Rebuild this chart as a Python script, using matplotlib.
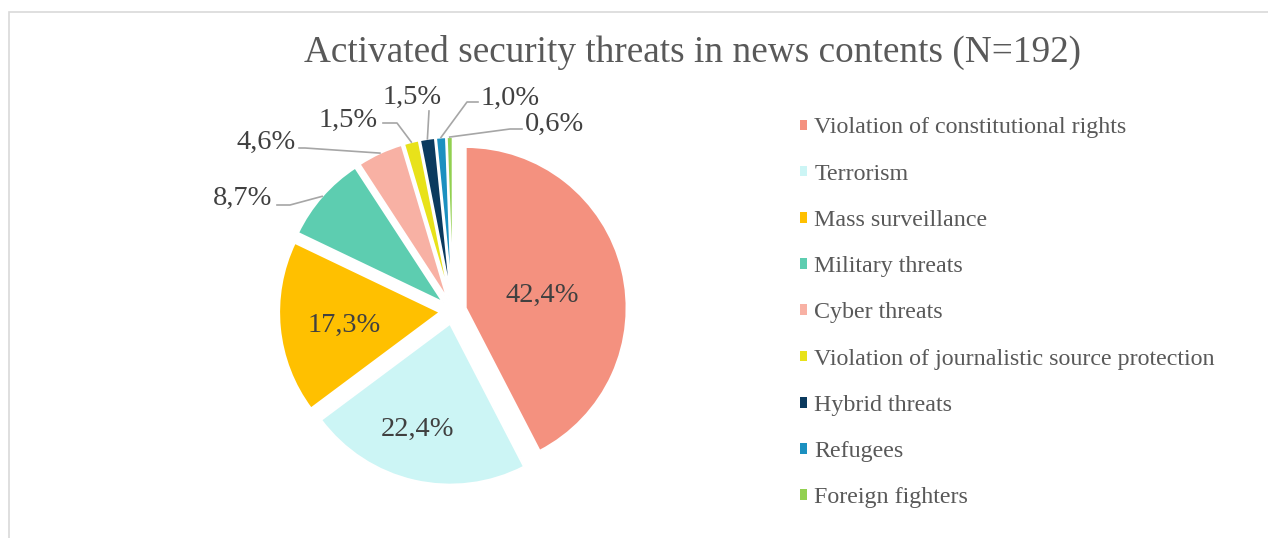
import matplotlib.pyplot as plt
from matplotlib.patches import Rectangle, Patch
import numpy as np

# data
categories = ['Violation of constitutional rights', 'Terrorism', 'Mass surveillance',
              'Military threats', 'Cyber threats', 'Violation of journalistic source protection',
              'Hybrid threats', 'Refugees', 'Foreign fighters']
shares = [42.4, 22.4, 17.3, 8.7, 4.6, 1.5, 1.5, 1.0, 0.6]
colors = ['#F4917F', '#CCF5F5', '#FFC000', '#5DCDB0', '#F8B1A4',
          '#E8E21A', '#0B3A5E', '#1B90C0', '#92D050']

W, H = 1268, 538
plt.rcParams['font.family'] = 'Liberation Serif'

fig = plt.figure(figsize=(W / 100, H / 100), dpi=100)
ax = fig.add_axes([0, 0, 1, 1])


def py(y):
    # pixel row -> data y (y up)
    return H - y


# explode is in data units (pixels here)
wedges, _ = ax.pie(shares, colors=colors, startangle=90, counterclock=False,
                   center=(453, py(311)), radius=161, explode=[13] * len(shares),
                   wedgeprops=dict(linewidth=1.5, edgecolor='white'))
ax.set_xlim(0, W)
ax.set_ylim(0, H)
ax.set_aspect('equal')
ax.axis('off')

# chart area border (partly cut off like the reference)
ax.add_patch(Rectangle((9, py(600)), 1400, 600 - 12, fill=False,
                       edgecolor='#D9D9D9', lw=1.2, clip_on=False))

ax.text(692, py(52), 'Activated security threats in news contents (N=192)',
        ha='center', va='center', fontsize=26.8, color='#595959')


def fmt(v):
    return f'{v:.1f}%'.replace('.', ',')


# inside labels
inside_xy = [(542, 295), (417, 429), (344, 325)]
for v, (x, y) in zip(shares[:3], inside_xy):
    ax.text(x, py(y), fmt(v), ha='center', va='center', fontsize=20.5, color='#404040')

# outside labels with leader lines
outside_xy = [(243, 198), (266, 142), (348, 120), (412, 97), (510, 98), (554, 124)]
elbows = [[(290, 205), (277, 205)],
          [(305, 148), (299, 148)],
          [(397, 123), (383, 123)],
          [(429, 111)],
          [(467, 102), (478, 102)],
          [(510, 129), (522, 129)]]
for w, v, (x, y), el in zip(wedges[3:], shares[3:], outside_xy, elbows):
    mid = np.deg2rad((w.theta1 + w.theta2) / 2)
    cx, cy = w.center
    sx, sy = cx + w.r * np.cos(mid), cy + w.r * np.sin(mid)
    xs = [sx] + [p[0] for p in el]
    ys = [sy] + [py(p[1]) for p in el]
    ax.plot(xs, ys, color='#A6A6A6', lw=1.2)
    ax.text(x, py(y), fmt(v), ha='center', va='center', fontsize=20.5, color='#404040')

handles = [Patch(facecolor=c, edgecolor='none') for c in colors]
ax.legend(handles, categories, loc='upper left', bbox_to_anchor=(800 / W, 1 - 117.5 / H),
          frameon=False, fontsize=17.3, handlelength=0.3, handleheight=0.3,
          handletextpad=0.3, labelspacing=1.05, borderpad=0, borderaxespad=0,
          labelcolor='#595959')

fig.savefig('out.png', dpi=100)
